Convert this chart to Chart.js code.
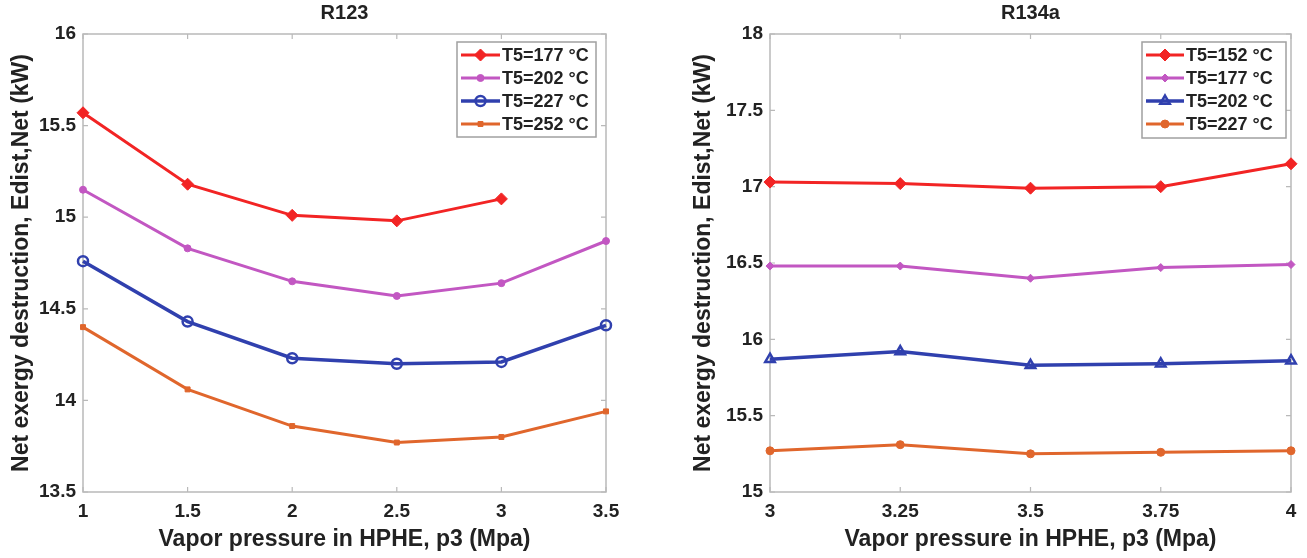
<!DOCTYPE html>
<html>
<head>
<meta charset="utf-8">
<title>Net exergy destruction vs vapor pressure</title>
<script src="https://cdn.jsdelivr.net/npm/chart.js@4.4.1/dist/chart.umd.min.js"></script>
<style>
  html, body { margin: 0; padding: 0; background: #fff; }
  #wrap { position: relative; width: 1307px; height: 558px; overflow: hidden; }
  canvas { position: absolute; top: 0; }
</style>
</head>
<body>
<div id="wrap">
  <canvas id="r123" width="650" height="558" style="left:0;width:650px;height:558px"></canvas>
  <canvas id="r134a" width="657" height="558" style="left:650px;width:657px;height:558px"></canvas>
</div>
<script>
// R123 panel
const p3R123 = [1, 1.5, 2, 2.5, 3, 3.5];
const xLabelsR123 = ['1', '1.5', '2', '2.5', '3', '3.5'];
const yTicksR123 = [13.5, 14, 14.5, 15, 15.5, 16];
const yLabelsR123 = ['13.5', '14', '14.5', '15', '15.5', '16'];
const r123T177 = [15.57, 15.18, 15.01, 14.98, 15.10];
const r123T202 = [15.15, 14.83, 14.65, 14.57, 14.64, 14.87];
const r123T227 = [14.76, 14.43, 14.23, 14.20, 14.21, 14.41];
const r123T252 = [14.40, 14.06, 13.86, 13.77, 13.80, 13.94];
const labelsR123 = ['T5=177 °C', 'T5=202 °C', 'T5=227 °C', 'T5=252 °C'];

// R134a panel
const p3R134a = [3, 3.25, 3.5, 3.75, 4];
const xLabelsR134a = ['3', '3.25', '3.5', '3.75', '4'];
const yTicksR134a = [15, 15.5, 16, 16.5, 17, 17.5, 18];
const yLabelsR134a = ['15', '15.5', '16', '16.5', '17', '17.5', '18'];
const r134aT152 = [17.03, 17.02, 16.99, 17.00, 17.15];
const r134aT177 = [16.48, 16.48, 16.40, 16.47, 16.49];
const r134aT202 = [15.87, 15.92, 15.83, 15.84, 15.86];
const r134aT227 = [15.27, 15.31, 15.25, 15.26, 15.27];
const labelsR134a = ['T5=152 °C', 'T5=177 °C', 'T5=202 °C', 'T5=227 °C'];

const FONT = "'Liberation Sans', Arial, Helvetica, sans-serif";
const INK = '#222';
const FRAME = '#b9b9b9';
const RED = '#f22424';
const MAGENTA = '#c257c2';
const BLUE = '#3040ae';
const ORANGE = '#e0662c';

function pairs(xs, ys) {
  return ys.map(function (y, i) { return { x: xs[i], y: y }; });
}

function series(label, xs, ys, color, style, radius, width, hollow) {
  return {
    label: label,
    data: pairs(xs, ys),
    borderColor: color,
    backgroundColor: color,
    borderWidth: width,
    pointStyle: style,
    pointRadius: radius,
    pointBorderWidth: hollow ? 2.5 : 1,
    pointBackgroundColor: hollow ? 'rgba(0,0,0,0)' : color,
    pointBorderColor: color,
    tension: 0,
    clip: false
  };
}

// box with inward tick marks on all four sides, plus the panel title
const framePlugin = {
  id: 'frame',
  beforeDatasetsDraw: function (chart) {
    const a = chart.chartArea, ctx = chart.ctx;
    const xs = chart.scales.x, ys = chart.scales.y;
    ctx.save();
    ctx.strokeStyle = FRAME;
    ctx.lineWidth = 1.5;
    ctx.strokeRect(a.left, a.top, a.right - a.left, a.bottom - a.top);
    ctx.lineWidth = 1.2;
    ctx.beginPath();
    xs.ticks.forEach(function (t) {
      const px = xs.getPixelForValue(t.value);
      ctx.moveTo(px, a.bottom); ctx.lineTo(px, a.bottom - 5);
      ctx.moveTo(px, a.top); ctx.lineTo(px, a.top + 5);
    });
    ys.ticks.forEach(function (t) {
      const py = ys.getPixelForValue(t.value);
      ctx.moveTo(a.left, py); ctx.lineTo(a.left + 5, py);
      ctx.moveTo(a.right, py); ctx.lineTo(a.right - 5, py);
    });
    ctx.stroke();
    ctx.restore();
  },
  afterDraw: function (chart) {
    const opts = chart.options.plugins.frame;
    const ctx = chart.ctx, a = chart.chartArea;
    ctx.save();
    ctx.fillStyle = INK;
    ctx.font = 'bold 20px ' + FONT;
    ctx.textAlign = 'center';
    ctx.textBaseline = 'middle';
    ctx.fillText(opts.title, (a.left + a.right) / 2, 13);
    ctx.restore();
  }
};

// legend drawn inside the axes, upper right corner
const boxLegendPlugin = {
  id: 'boxLegend',
  afterDraw: function (chart) {
    const o = chart.options.plugins.boxLegend;
    const ctx = chart.ctx, a = chart.chartArea;
    const left = a.right - o.gap - o.width;
    const top = a.top + 8;
    ctx.save();
    ctx.fillStyle = '#fff';
    ctx.fillRect(left, top, o.width, o.height);
    ctx.strokeStyle = '#a0a0a0';
    ctx.lineWidth = 1.5;
    ctx.strokeRect(left, top, o.width, o.height);
    chart.data.datasets.forEach(function (ds, i) {
      const cy = top + 13 + i * o.row;
      const x0 = left + 4, x1 = left + 4 + o.sample;
      ctx.strokeStyle = ds.borderColor;
      ctx.lineWidth = ds.borderWidth;
      ctx.beginPath();
      ctx.moveTo(x0, cy); ctx.lineTo(x1, cy);
      ctx.stroke();
      ctx.fillStyle = ds.pointBackgroundColor;
      ctx.strokeStyle = ds.pointBorderColor;
      ctx.lineWidth = ds.pointBorderWidth;
      Chart.helpers.drawPoint(ctx, {
        pointStyle: ds.pointStyle, radius: ds.pointRadius,
        borderWidth: ds.pointBorderWidth, rotation: 0
      }, (x0 + x1) / 2, cy);
      ctx.fillStyle = INK;
      ctx.font = 'bold 18px ' + FONT;
      ctx.textAlign = 'left';
      ctx.textBaseline = 'middle';
      ctx.fillText(ds.label, x1 + 2, cy + 1);
    });
    ctx.restore();
  }
};

function makeChart(id, cfg) {
  return new Chart(document.getElementById(id), {
    type: 'line',
    data: { datasets: cfg.datasets },
    plugins: [framePlugin, boxLegendPlugin],
    options: {
      responsive: false,
      animation: false,
      events: [],
      layout: { padding: { top: 34, right: cfg.padRight, left: cfg.padLeft, bottom: 0 } },
      plugins: {
        legend: { display: false },
        tooltip: { enabled: false },
        frame: { title: cfg.title },
        boxLegend: cfg.legend
      },
      scales: {
        x: {
          type: 'linear',
          min: cfg.xTicks[0],
          max: cfg.xTicks[cfg.xTicks.length - 1],
          afterBuildTicks: function (s) { s.ticks = cfg.xTicks.map(function (v) { return { value: v }; }); },
          afterFit: function (s) { s.height = 66; },
          grid: { display: false, drawTicks: false },
          border: { display: false },
          ticks: {
            color: INK, padding: 8, maxRotation: 0, autoSkip: false,
            font: { family: FONT, size: 19, weight: 'bold' },
            callback: function (v, i) { return cfg.xLabels[i]; }
          },
          title: {
            display: true,
            text: 'Vapor pressure in HPHE, p3 (Mpa)',
            color: INK,
            padding: { top: 0, bottom: 5 },
            font: { family: FONT, size: 23, weight: 'bold' }
          }
        },
        y: {
          min: cfg.yTicks[0],
          max: cfg.yTicks[cfg.yTicks.length - 1],
          afterBuildTicks: function (s) { s.ticks = cfg.yTicks.map(function (v) { return { value: v }; }); },
          afterFit: function (s) { s.width = cfg.yWidth; },
          grid: { display: false, drawTicks: false },
          border: { display: false },
          ticks: {
            color: INK, padding: 7, autoSkip: false,
            font: { family: FONT, size: 19, weight: 'bold' },
            callback: function (v, i) { return cfg.yLabels[i]; }
          },
          title: {
            display: true,
            text: 'Net exergy destruction, Edist,Net (kW)',
            color: INK,
            padding: { top: 8, bottom: 0 },
            font: { family: FONT, size: 23, weight: 'bold' }
          }
        }
      }
    }
  });
}

makeChart('r123', {
  title: 'R123',
  xTicks: p3R123,
  xLabels: xLabelsR123,
  yTicks: yTicksR123,
  yLabels: yLabelsR123,
  padLeft: 0,
  padRight: 44,
  yWidth: 83,
  legend: { width: 139, height: 95, gap: 10, row: 23, sample: 39 },
  datasets: [
    series(labelsR123[0], p3R123, r123T177, RED, 'rectRot', 6, 3, false),
    series(labelsR123[1], p3R123, r123T202, MAGENTA, 'circle', 3.5, 3, false),
    series(labelsR123[2], p3R123, r123T227, BLUE, 'circle', 5, 3.5, true),
    series(labelsR123[3], p3R123, r123T252, ORANGE, 'rect', 3.5, 3, false)
  ]
});

makeChart('r134a', {
  title: 'R134a',
  xTicks: p3R134a,
  xLabels: xLabelsR134a,
  yTicks: yTicksR134a,
  yLabels: yLabelsR134a,
  padLeft: 32,
  padRight: 16,
  yWidth: 88,
  legend: { width: 144, height: 96, gap: 5, row: 23, sample: 38 },
  datasets: [
    series(labelsR134a[0], p3R134a, r134aT152, RED, 'rectRot', 6, 3, false),
    series(labelsR134a[1], p3R134a, r134aT177, MAGENTA, 'rectRot', 4, 3, false),
    series(labelsR134a[2], p3R134a, r134aT202, BLUE, 'triangle', 5.5, 3.5, true),
    series(labelsR134a[3], p3R134a, r134aT227, ORANGE, 'circle', 4, 3, false)
  ]
});
</script>
</body>
</html>
